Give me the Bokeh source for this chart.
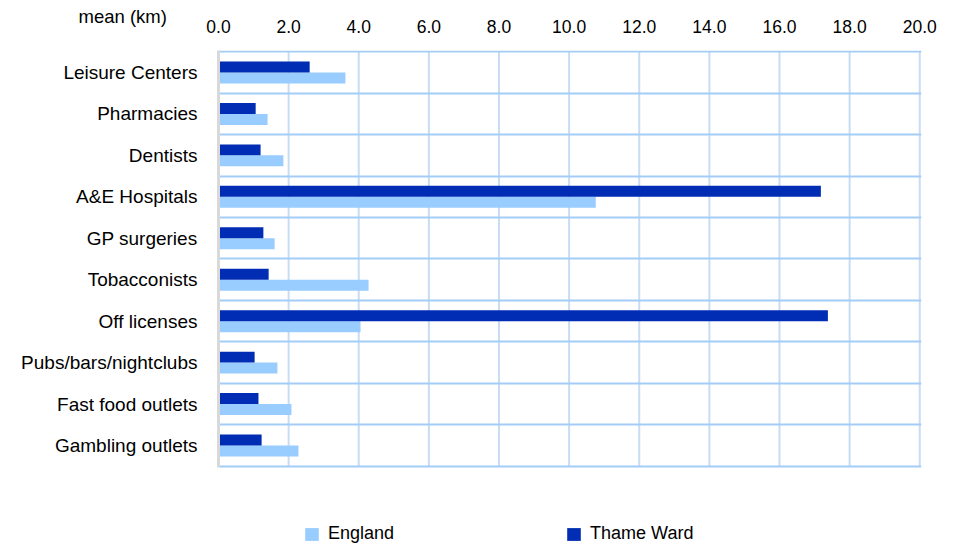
from bokeh.plotting import figure
from bokeh.models import (Range1d, FixedTicker, LinearAxis, Legend, LegendItem,
                          Title, Grid, ColumnDataSource)
from bokeh.embed import file_html
from bokeh.resources import INLINE

categories = ["Leisure Centers", "Pharmacies", "Dentists", "A&E Hospitals", "GP surgeries",
              "Tobacconists", "Off licenses", "Pubs/bars/nightclubs", "Fast food outlets",
              "Gambling outlets"]
england = [3.62, 1.40, 1.85, 10.76, 1.60, 4.28, 4.05, 1.68, 2.08, 2.28]
thame_ward = [2.60, 1.06, 1.20, 17.18, 1.28, 1.43, 17.38, 1.03, 1.14, 1.23]
x_ticks = [0, 2, 4, 6, 8, 10, 12, 14, 16, 18, 20]

FONT = "Liberation Sans"
DARK = "#002DB3"
LIGHT = "#99CCFF"

n = len(categories)
centers = [n - i - 0.5 for i in range(n)]
bar_h = 0.265

src = ColumnDataSource(dict(
    y_thame=[c + bar_h / 2 for c in centers],
    y_eng=[c - bar_h / 2 for c in centers],
    england=england,
    thame=thame_ward,
))

# frame extends to the bottom of the canvas so the legend can sit inside it
p = figure(width=959, height=544, output_backend="svg", toolbar_location=None,
           x_range=Range1d(0, 20.05), y_range=Range1d(-1.888, n + 0.03),
           x_axis_location=None, y_axis_location=None,
           min_border_left=218, min_border_right=38, min_border_top=50,
           min_border_bottom=0)
p.outline_line_color = None
p.background_fill_color = "white"
p.border_fill_color = "white"

p.xgrid.visible = False
p.ygrid.visible = False
hgrid = Grid(dimension=1, ticker=FixedTicker(ticks=list(range(0, n + 1))),
             grid_line_color="#A3CDF7", grid_line_width=2)
p.add_layout(hgrid)
# vertical grid lines limited to the category rows
vsrc = ColumnDataSource(dict(x=x_ticks[1:], y0=[0] * len(x_ticks[1:]),
                             y1=[n] * len(x_ticks[1:])))
p.segment(x0="x", x1="x", y0="y0", y1="y1", source=vsrc, line_color="#C8DCF4",
          line_width=2, level="underlay")

r_eng = p.hbar(y="y_eng", right="england", left=0, height=bar_h, source=src,
               fill_color=LIGHT, line_color=None)
r_th = p.hbar(y="y_thame", right="thame", left=0, height=bar_h, source=src,
              fill_color=DARK, line_color=None)

xa = LinearAxis(ticker=FixedTicker(ticks=x_ticks))
xa.major_label_overrides = {t: f"{t:.1f}" for t in x_ticks}
xa.axis_line_color = None
xa.major_tick_line_color = None
xa.minor_tick_line_color = None
xa.major_tick_out = 0
xa.major_tick_in = 0
xa.major_label_standoff = 18
xa.major_label_text_font = FONT
xa.major_label_text_font_size = "17.5px"
xa.major_label_text_color = "#000000"
p.add_layout(xa, "above")

title = Title(text="mean (km)", align="left", offset=-140, standoff=-20,
              vertical_align="bottom", text_font=FONT, text_font_size="18.5px",
              text_font_style="normal", text_color="#000000")
p.add_layout(title, "above")

ya = LinearAxis(ticker=FixedTicker(ticks=centers), bounds=(-0.03, n + 0.03))
ya.major_label_overrides = {c: cat for c, cat in zip(centers, categories)}
ya.axis_line_color = "#D9D9D9"
ya.axis_line_width = 3
ya.major_tick_line_color = None
ya.minor_tick_line_color = None
ya.major_tick_out = 0
ya.major_tick_in = 0
ya.major_label_standoff = 21
ya.major_label_text_font = FONT
ya.major_label_text_font_size = "19px"
ya.major_label_text_color = "#000000"
p.add_layout(ya, "left")

legend = Legend(items=[LegendItem(label="England", renderers=[r_eng]),
                       LegendItem(label="Thame Ward", renderers=[r_th])],
                orientation="horizontal", location=(85, 0),
                glyph_width=17, glyph_height=16, label_standoff=8, spacing=171,
                label_height=14,
                label_text_font=FONT, label_text_font_size="18px",
                label_text_color="#000000", border_line_color=None,
                background_fill_alpha=0, padding=0, margin=0)
p.add_layout(legend, "center")

open("out.html", "w").write(file_html(p, INLINE))
